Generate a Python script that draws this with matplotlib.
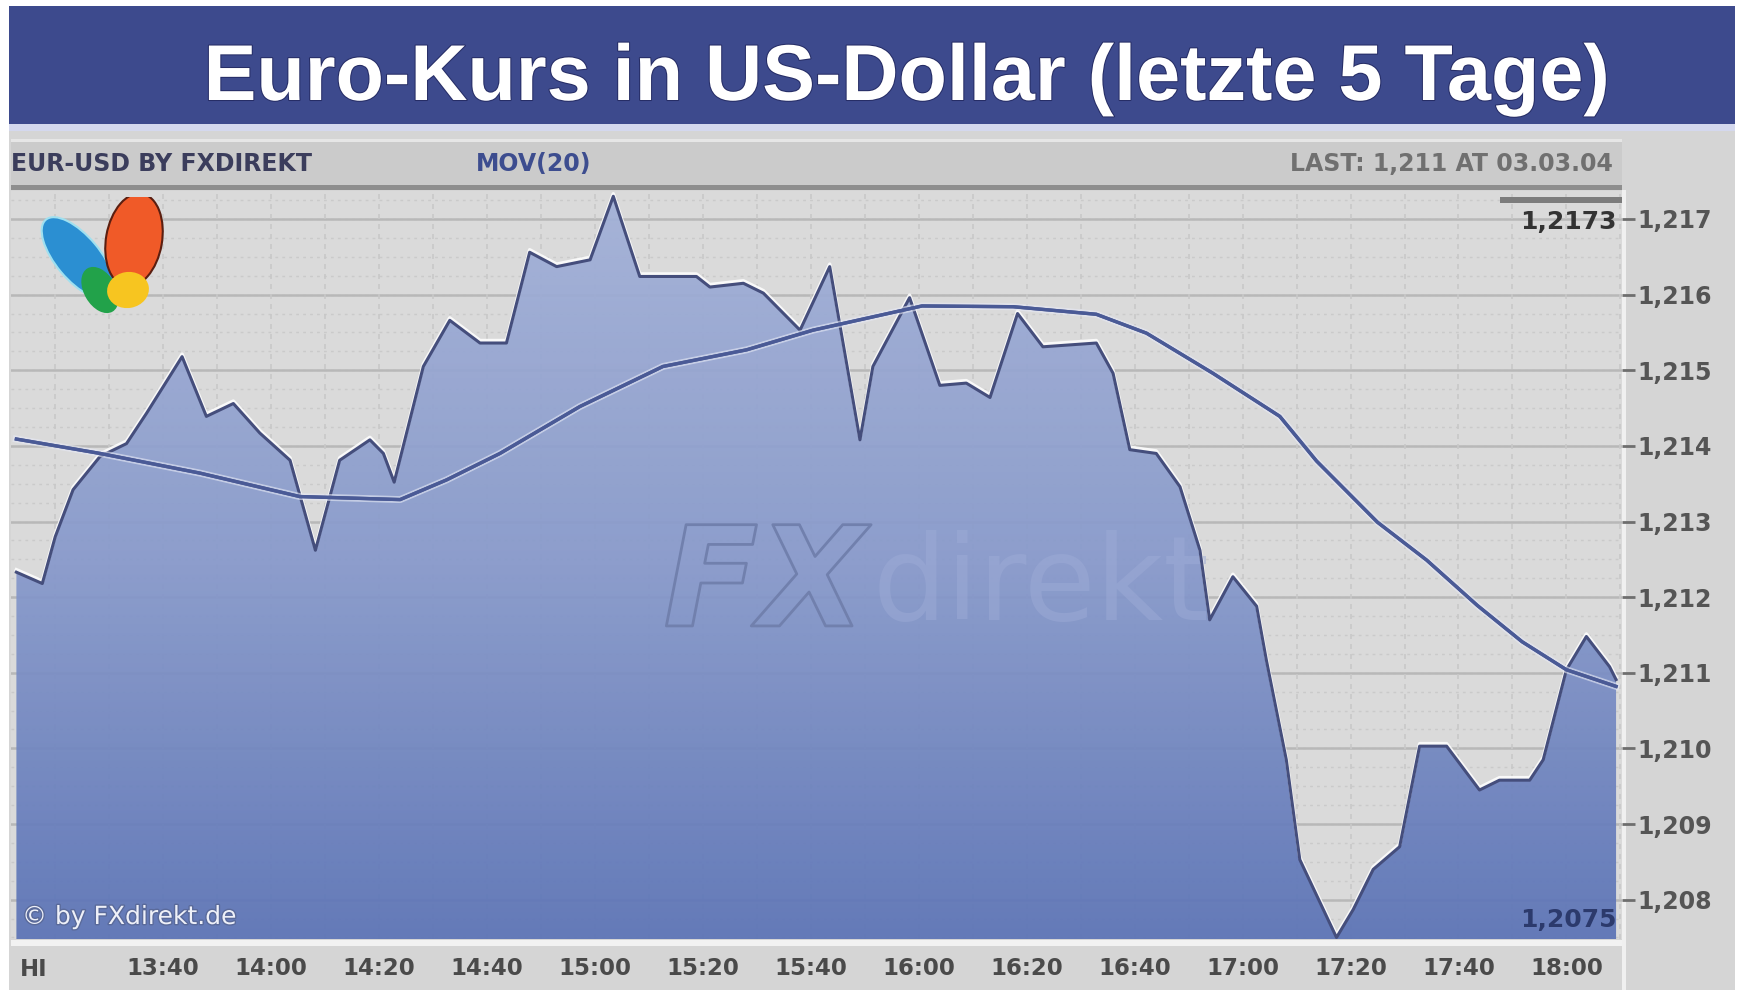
import matplotlib
matplotlib.use("Agg")
import matplotlib.pyplot as plt
import matplotlib.patheffects as pe
from matplotlib.patches import Rectangle, Ellipse
from matplotlib import transforms
import numpy as np

# Kursverlauf EUR/USD (Minuten nach 13:00, Kurs)
kurs_min = [12.8, 17.6, 20.0, 23.3, 28.3, 33.2, 36.9, 43.5, 48.0, 53.0, 57.9, 63.5,
            68.2, 72.7, 78.3, 80.8, 82.8, 88.2, 93.1, 98.7, 103.6, 107.9, 112.9, 119.1,
            123.4, 128.3, 132.6, 138.8, 141.3, 147.5, 151.2, 158.0, 163.5, 169.1, 171.5,
            178.3, 183.9, 188.8, 193.2, 198.3, 203.0, 212.9, 216.0, 219.1, 224.0, 228.4,
            232.1, 233.9, 238.2, 242.6, 244.4, 248.1, 250.6, 257.4, 260.5, 264.2, 269.1,
            272.8, 277.8, 283.9, 287.6, 293.2, 295.7, 300.0, 303.7, 308.0, 309.2]
kurs = [1.21233, 1.21218, 1.21280, 1.21342, 1.21386, 1.21403, 1.21443, 1.21518, 1.21439,
        1.21456, 1.21417, 1.21381, 1.21262, 1.21381, 1.21408, 1.21390, 1.21352, 1.21505,
        1.21566, 1.21536, 1.21536, 1.21656, 1.21637, 1.21646, 1.21730, 1.21624, 1.21624,
        1.21624, 1.21610, 1.21615, 1.21602, 1.21553, 1.21637, 1.21408, 1.21505, 1.21596,
        1.21480, 1.21483, 1.21464, 1.21575, 1.21531, 1.21536, 1.21496, 1.21395, 1.21390,
        1.21346, 1.21262, 1.21170, 1.21227, 1.21188, 1.21117, 1.20985, 1.20853, 1.20750,
        1.20787, 1.20840, 1.20870, 1.21003, 1.21003, 1.20945, 1.20958, 1.20958, 1.20985,
        1.21104, 1.21148, 1.21108, 1.21091]

# gleitender Durchschnitt MOV(20)
mov_min = [12.8, 28.3, 46.8, 65.3, 83.9, 92.5, 102.4, 117.2, 132.6, 148.1, 160.4, 180.6,
           197.5, 212.9, 222.2, 234.5, 246.9, 253.7, 265.0, 274.1, 283.5, 291.8, 300.0, 309.2]
mov = [1.21409, 1.21390, 1.21364, 1.21333, 1.21329, 1.21355, 1.21390, 1.21452, 1.21505,
       1.21527, 1.21553, 1.21585, 1.21584, 1.21574, 1.21549, 1.21496, 1.21439, 1.21380,
       1.21299, 1.21249, 1.21189, 1.21141, 1.21104, 1.21082]

zeit_labels = ["13:40", "14:00", "14:20", "14:40", "15:00", "15:20", "15:40", "16:00",
               "16:20", "16:40", "17:00", "17:20", "17:40", "18:00"]
kurs_ticks = [1.208, 1.209, 1.210, 1.211, 1.212, 1.213, 1.214, 1.215, 1.216, 1.217]

W, H = 1742, 990
fig = plt.figure(figsize=(W / 100, H / 100), dpi=100, facecolor="white")


def fx(px):
    return px / W


def fy(py):
    return 1 - py / H


def kasten(x0, y0, x1, y1, farbe, z=-5):
    fig.add_artist(Rectangle((fx(x0), fy(y1)), fx(x1) - fx(x0), fy(y0) - fy(y1),
                             transform=fig.transFigure, facecolor=farbe,
                             edgecolor="none", zorder=z))


# Hintergrund, Titelbalken, Kopfzeile
kasten(9, 124, 1735, 990, "#d5d5d5")
kasten(9, 6, 1735, 124, "#3d4a8d")
kasten(9, 124, 1735, 131, "#d4d8ee")
kasten(11, 139, 1622, 189, "#cbcbcb")
kasten(11, 139, 1622, 142, "#e6e6e6")
kasten(11, 185, 1622, 190, "#8e8e8e")
kasten(11, 940, 1622, 946, "#f2f2f2")
kasten(1622, 190, 1626, 990, "#f0f0f0")

fig.text(0.5207, fy(100), "Euro-Kurs in US-Dollar (letzte 5 Tage)", color="white",
         fontsize=57, fontweight="bold", family="Liberation Sans", ha="center",
         va="baseline", path_effects=[pe.withStroke(linewidth=1.5, foreground="#262d66")])

fig.text(fx(11), fy(164), "EUR-USD BY FXDIREKT", color="#3b3d5c", fontsize=17,
         fontweight="bold", family="DejaVu Sans", ha="left", va="center")
fig.text(fx(476), fy(164), "MOV(20)", color="#3d4d8f", fontsize=17,
         fontweight="bold", family="DejaVu Sans", ha="left", va="center")
fig.text(fx(1613), fy(164), "LAST: 1,211 AT 03.03.04", color="#707070", fontsize=17,
         fontweight="bold", family="DejaVu Sans", ha="right", va="center")

# Chart
ax = fig.add_axes([fx(11), fy(939), fx(1622) - fx(11), fy(191) - fy(939)])
ax.set_facecolor("#dadada")
x0, x1 = 11.8, 310.3
y0, y1 = 1.20748, 1.21737
ax.set_xlim(x0, x1)
ax.set_ylim(y0, y1)

# Raster
for v in np.arange(1.2075, 1.2175, 0.00025):
    ax.axhline(v, color="#cacaca", lw=1, ls=(0, (2, 3)), zorder=1)
for v in kurs_ticks:
    ax.axhline(v, color="#b8b8b8", lw=1.8, zorder=1)
for m in range(20, 311, 10):
    ax.axvline(m, color="#c8c8c8", lw=1.2, ls=(0, (3, 3)), zorder=1)

# Fläche mit Farbverlauf
flaeche = ax.fill_between(kurs_min, kurs, y0, facecolor="none", edgecolor="none")
verlauf = np.linspace(0, 1, 256).reshape(-1, 1)
cmap = matplotlib.colors.LinearSegmentedColormap.from_list("fx", ["#5b73b6", "#8799cb", "#a3b1d8"])
bild = ax.imshow(verlauf, extent=[x0, x1, y0, y1], origin="lower", aspect="auto",
                 cmap=cmap, alpha=0.93, zorder=2)
bild.set_clip_path(flaeche.get_paths()[0], transform=ax.transData)

# Wasserzeichen
ax.text(0.405, 0.47, "FX", transform=ax.transAxes, fontsize=100, fontweight="bold",
        style="italic", color="none", family="DejaVu Sans", va="center", ha="left",
        zorder=3, path_effects=[pe.withStroke(linewidth=2, foreground="#7180ad")])
ax.text(0.535, 0.47, "direkt", transform=ax.transAxes, fontsize=84, color="#9dabd6",
        alpha=0.5, family="DejaVu Sans", va="center", ha="left", zorder=3)

halo = transforms.offset_copy(ax.transData, fig=fig, x=0, y=2.5, units="dots")
ax.plot(kurs_min, kurs, color="white", lw=2.5, alpha=0.85, transform=halo, zorder=4)
ax.plot(kurs_min, kurs, color="#454e7c", lw=2.2, zorder=5)
ax.plot(mov_min, mov, color="#4a5a96", lw=2.4, zorder=6,
        path_effects=[pe.withStroke(linewidth=5, foreground="#e6e9f5", alpha=0.6), pe.Normal()])

# Achsen
for s in ax.spines.values():
    s.set_visible(False)
ax.yaxis.tick_right()
ax.set_yticks(kurs_ticks)
ax.set_yticklabels([f"{v:.3f}".replace(".", ",") for v in kurs_ticks])
ax.tick_params(axis="y", direction="out", length=9, width=2, color="#6e6e6e",
               labelcolor="#555555", labelsize=17, pad=2)
for t in ax.get_yticklabels():
    t.set_fontweight("bold")

zeit_min = [int(z[:2]) * 60 + int(z[3:]) - 780 for z in zeit_labels]
ax.set_xticks(zeit_min)
ax.set_xticklabels(zeit_labels)
ax.tick_params(axis="x", length=0, pad=13, labelsize=16.5, labelcolor="#4a4a4a")
for t in ax.get_xticklabels():
    t.set_fontweight("bold")
fig.text(fx(34), fy(969), "HI", color="#4a4a4a", fontsize=16.5, fontweight="bold",
         ha="center", va="center")

# Max/Min-Markierung
kasten(1500, 197, 1622, 203, "#7c7c7c", z=5)
fig.text(fx(1617), fy(222), f"{max(kurs):.4f}".replace(".", ","), color="#333333",
         fontsize=18, fontweight="bold", ha="right", va="center", zorder=6)
fig.text(fx(1617), fy(920), f"{min(kurs):.4f}".replace(".", ","), color="#2c3a6c",
         fontsize=18, fontweight="bold", ha="right", va="center", zorder=6)

fig.text(fx(22), fy(917), "\u00a9 by FXdirekt.de", color="#eef0f8", fontsize=18,
         ha="left", va="center", zorder=6,
         path_effects=[pe.withStroke(linewidth=2, foreground="#5a6a9a")])

# Logo
lax = fig.add_axes([fx(33), fy(318), fx(170) - fx(33), fy(197) - fy(318)], zorder=5)
lax.set_xlim(33, 170)
lax.set_ylim(318, 197)
lax.axis("off")
lax.add_patch(Ellipse((78, 258), 100, 44, angle=50, facecolor="#2b8fd2", edgecolor="#9fe0f0", lw=1.5))
lax.add_patch(Ellipse((100, 290), 50, 32, angle=60, facecolor="#22a24a", edgecolor="none"))
lax.add_patch(Ellipse((134, 240), 56, 94, angle=10, facecolor="#f05a28", edgecolor="#5a1e10", lw=1.5))
lax.add_patch(Ellipse((128, 290), 42, 36, angle=-10, facecolor="#f7c520", edgecolor="none"))

fig.savefig("out.png", dpi=100, facecolor=fig.get_facecolor())
